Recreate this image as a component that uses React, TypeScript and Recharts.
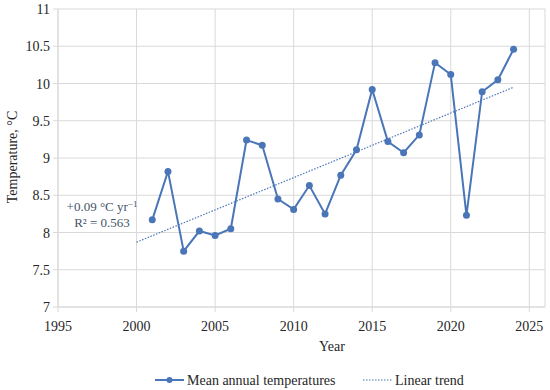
import React from 'react';
import { ComposedChart, Line, XAxis, YAxis, CartesianGrid, Label, Legend } from 'recharts';

const years = [2001, 2002, 2003, 2004, 2005, 2006, 2007, 2008, 2009, 2010, 2011, 2012, 2013, 2014, 2015, 2016, 2017, 2018, 2019, 2020, 2021, 2022, 2023, 2024];
const meanTemps = [8.17, 8.82, 7.75, 8.02, 7.96, 8.05, 9.24, 9.17, 8.45, 8.31, 8.63, 8.25, 8.77, 9.11, 9.92, 9.22, 9.07, 9.31, 10.28, 10.12, 8.23, 9.89, 10.05, 10.46];
const trendYears = [2000, 2024];
const trendValues = [7.87, 9.95];
const xTicks = [1995, 2000, 2005, 2010, 2015, 2020, 2025];
const yTicks = [7, 7.5, 8, 8.5, 9, 9.5, 10, 10.5, 11];

const tempData = years.map((year, i) => ({ year, temp: meanTemps[i] }));
const trendData = trendYears.map((year, i) => ({ year, trend: trendValues[i] }));

const BLUE = '#4a76b8';
const TEXT = '#262626';
const FONT = '"Liberation Serif", "DejaVu Serif", serif';

function XTick(props: any) {
  const { x, y, payload } = props;
  return (
    <text x={x} y={y + 17} textAnchor="middle" fontSize={14} fill={TEXT} fontFamily={FONT}>
      {payload.value}
    </text>
  );
}

function YTick(props: any) {
  const { x, y, payload } = props;
  return (
    <text x={x - 1} y={y + 5} textAnchor="end" fontSize={14} fill={TEXT} fontFamily={FONT}>
      {payload.value}
    </text>
  );
}

function LegendBox() {
  return (
    <svg width={550} height={20} style={{ display: 'block' }}>
      <line x1={155} y1={10} x2={184} y2={10} stroke={BLUE} strokeWidth={2} />
      <circle cx={169.5} cy={10} r={3} fill={BLUE} />
      <text x={187} y={14.5} fontSize={14} fill={TEXT} fontFamily={FONT}>Mean annual temperatures</text>
      <line x1={363} y1={10} x2={392} y2={10} stroke={BLUE} strokeWidth={1.2} strokeDasharray="1.5 1.5" />
      <text x={395} y={14.5} fontSize={14} fill={TEXT} fontFamily={FONT}>Linear trend</text>
    </svg>
  );
}

export default function App() {
  return (
    <div style={{ position: 'absolute', left: 0, top: 0, width: 550, height: 390, background: '#fff' }}>
      <ComposedChart width={550} height={390} margin={{ top: 9, right: 5, left: 0, bottom: 0 }} style={{ fontFamily: FONT }}>
        <CartesianGrid stroke="#d9d9d9" />
        <XAxis
          dataKey="year"
          type="number"
          domain={[1995, 2026]}
          ticks={xTicks}
          allowDataOverflow
          height={63}
          stroke="#d9d9d9"
          tickSize={5}
          tick={<XTick />}
        >
          <Label
            content={() => (
              <text x={332} y={351} textAnchor="middle" fontSize={14} fill={TEXT} fontFamily={FONT}>Year</text>
            )}
          />
        </XAxis>
        <YAxis
          type="number"
          domain={[7, 11]}
          ticks={yTicks}
          width={58}
          stroke="#d9d9d9"
          tickSize={5}
          tick={<YTick />}
        >
          <Label
            content={() => (
              <text x={17} y={157} transform="rotate(-90 17 157)" textAnchor="middle" fontSize={14} fill={TEXT} fontFamily={FONT}>Temperature, °C</text>
            )}
          />
        </YAxis>
        <Legend verticalAlign="bottom" content={() => <LegendBox />} wrapperStyle={{ left: 0, bottom: 0 }} />
        <Line
          data={trendData}
          dataKey="trend"
          stroke={BLUE}
          strokeWidth={1.2}
          strokeDasharray="1.5 1.5"
          dot={false}
          isAnimationActive={false}
          legendType="none"
        />
        <Line
          data={tempData}
          dataKey="temp"
          stroke={BLUE}
          strokeWidth={2}
          dot={{ r: 3.5, fill: BLUE, stroke: BLUE, strokeWidth: 0 }}
          isAnimationActive={false}
        />
        <text x={102} y={211} textAnchor="middle" fontSize={13} fill="#44546a" fontFamily={FONT}>
          +0.09 °C yr<tspan dy={-4} fontSize={9}>−1</tspan>
        </text>
        <text x={102} y={227} textAnchor="middle" fontSize={13} fill="#44546a" fontFamily={FONT}>
          R² = 0.563
        </text>
      </ComposedChart>
    </div>
  );
}
